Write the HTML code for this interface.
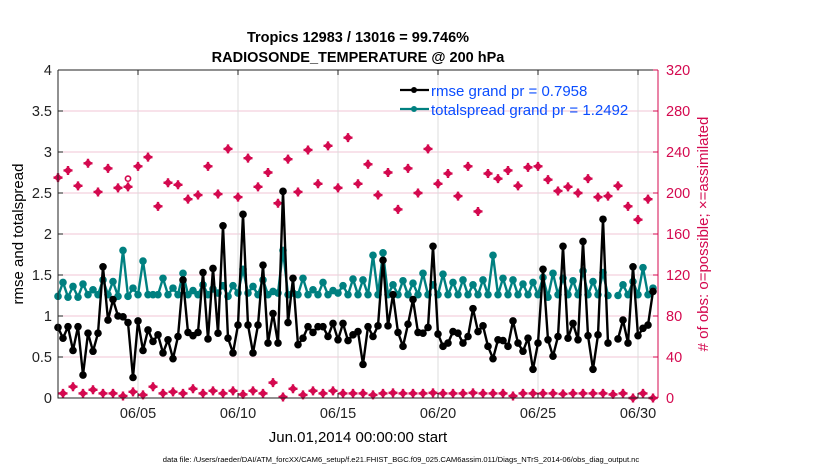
<!DOCTYPE html>
<html><head><meta charset="utf-8"><style>
html,body{margin:0;padding:0;background:#fff;}
svg{display:block;font-family:"Liberation Sans",Arial,sans-serif;}
</style></head><body>
<svg id="chart" width="830" height="470" viewBox="0 0 830 470" xmlns="http://www.w3.org/2000/svg">
<rect x="0" y="0" width="830" height="470" fill="#fff"/>
<text x="358" y="42" text-anchor="middle" font-size="14.5" font-weight="bold">Tropics 12983 / 13016 = 99.746%</text>
<text x="358" y="62" text-anchor="middle" font-size="14.5" font-weight="bold">RADIOSONDE_TEMPERATURE @ 200 hPa</text>
<g id="grid"></g>
<g id="marks"></g>
<g id="axes"></g>
<text transform="translate(23,234) rotate(-90)" text-anchor="middle" font-size="15">rmse and totalspread</text>
<text transform="translate(708,234) rotate(-90)" text-anchor="middle" font-size="15" fill="#d4094f">#  of obs: o=possible; ×=assimilated</text>
<text x="358" y="442" text-anchor="middle" font-size="15">Jun.01,2014 00:00:00 start</text>
<text x="401" y="462" text-anchor="middle" font-size="7.6">data file: /Users/raeder/DAI/ATM_forcXX/CAM6_setup/f.e21.FHIST_BGC.f09_025.CAM6assim.011/Diags_NTrS_2014-06/obs_diag_output.nc</text>
<g>
  <g>
    <line x1="400" y1="90" x2="429" y2="90" stroke="#000" stroke-width="2.2"/>
    <circle cx="414" cy="90" r="3" fill="#000"/>
    <text x="431" y="96" font-size="15" fill="#0a4dff">rmse grand pr = 0.7958</text>
  </g>
  <g>
    <line x1="400" y1="109" x2="429" y2="109" stroke="#008080" stroke-width="2.2"/>
    <circle cx="414" cy="109" r="3" fill="#008080"/>
    <text x="431" y="115" font-size="15" fill="#0a4dff">totalspread grand pr = 1.2492</text>
  </g>
</g>
</svg>
<script>
// ---- data ----
const xTickLabels = ["06/05","06/10","06/15","06/20","06/25","06/30"];
const xTickDays = [4,9,14,19,24,29];
const leftTicks = [0,0.5,1,1.5,2,2.5,3,3.5,4];
const leftTickLabels = ["0","0.5","1","1.5","2","2.5","3","3.5","4"];
const rightTicks = [0,40,80,120,160,200,240,280,320];
const rmse = [0.86,0.73,0.87,0.58,0.87,0.28,0.79,0.57,0.79,1.60,0.95,1.20,1.00,0.99,0.92,0.25,0.94,0.58,0.83,0.69,
0.77,0.55,0.71,0.48,0.75,1.44,0.80,0.76,0.80,1.53,0.72,1.58,0.79,2.10,0.73,0.55,0.89,2.24,0.89,0.55,
0.89,1.62,0.67,1.03,0.67,2.52,0.92,1.46,0.65,0.73,0.87,0.80,0.87,0.87,0.75,0.91,0.71,0.91,0.70,0.77,
0.81,0.41,0.87,0.75,0.88,1.68,0.88,1.26,0.80,0.63,0.90,1.20,0.80,0.79,0.86,1.85,0.78,0.63,0.67,0.81,
0.79,0.67,0.75,1.09,0.81,0.88,0.63,0.48,0.71,0.70,0.63,0.94,0.67,0.57,0.73,0.35,0.67,1.57,0.71,0.51,
0.75,1.85,0.73,0.91,0.71,1.91,0.76,0.35,0.77,2.18,0.67,null,0.72,0.95,0.67,1.60,0.76,0.85,0.89,1.30];
const spread = [1.24,1.41,1.23,1.36,1.23,1.39,1.26,1.32,1.26,1.44,1.26,1.42,1.24,1.80,1.24,1.34,1.26,1.67,1.26,1.26,
1.26,1.46,1.26,1.34,1.26,1.52,1.26,1.31,1.26,1.38,1.26,1.33,1.28,1.37,1.24,1.37,1.28,1.57,1.28,1.36,
1.26,1.44,1.26,1.30,1.28,1.80,1.26,1.28,1.26,1.46,1.26,1.32,1.26,1.41,1.26,1.31,1.28,1.37,1.26,1.45,
1.26,1.44,1.26,1.74,1.26,1.77,1.26,1.38,1.26,1.43,1.26,1.40,1.26,1.52,1.26,1.38,1.26,1.51,1.26,1.41,
1.26,1.44,1.26,1.38,1.26,1.44,1.26,1.74,1.26,1.46,1.26,1.44,1.26,1.39,1.26,1.41,1.26,1.47,1.23,1.52,
1.26,1.46,1.26,1.43,1.26,1.55,1.26,1.42,1.26,1.53,1.25,null,1.25,1.38,1.26,1.42,1.26,1.59,1.26,1.34];
const obsSynoptic = [215,222,207,229,201,224,205,206,226,235,187,210,208,194,198,226,199,243,196,234,
206,220,190,233,201,242,209,246,205,254,209,228,198,220,184,224,200,243,209,219,
197,226,182,219,214,222,207,225,226,213,202,206,200,214,196,197,207,187,174,194];
const obsOffSynoptic = [4.5,11,4.5,8,4.5,4.5,2,6,3,11,4.5,6,4.5,9,4.5,7,4.5,7,3.5,7,
4.5,15,1,9,3,7,4.5,7,4.5,4.5,4.5,3,4.5,5,4.5,4.5,4.5,5,4.5,4.5,
4.5,5,4.5,4.5,4.5,2,4.5,4.5,4.5,4.5,4,4.5,4.5,4.5,4.5,3.5,4.5,0,4.5,0];
const possibleOnlyIndex = [14];
const possibleOnlyCount = [214];

// ---- scales ----
const X0=58, X1=658, Y0=398, Y1=70;
const xDay = d => X0 + (X1-X0)*d/30;
const xIdx = i => xDay(i/4);
const yL = v => Y0 - (Y0-Y1)*v/4;
const yR = v => Y0 - (Y0-Y1)*v/320;
const NS="http://www.w3.org/2000/svg";
const CR="#d4094f";
function mk(tag, attrs, parent){const e=document.createElementNS(NS,tag);for(const k in attrs)e.setAttribute(k,attrs[k]);parent.appendChild(e);return e;}
const grid=document.getElementById('grid'), marks=document.getElementById('marks'), axes=document.getElementById('axes');

rightTicks.forEach(t=>{ if(t>0&&t<320){
  const l=mk('line',{x1:X0,x2:X1,y1:yR(t),y2:yR(t),stroke:"#f2c6d6","stroke-width":1},grid);
  
  
}});
xTickDays.forEach(d=>{
  const l=mk('line',{x1:xDay(d),x2:xDay(d),y1:Y1,y2:Y0,stroke:"#dcdcdc","stroke-width":1},grid);
  
  
});

function cross(cx,cy,name){
  const g=mk('g',{},marks);
  
  
  mk('rect',{x:cx-3,y:cy-3,width:6,height:6,fill:CR,transform:`rotate(45 ${cx} ${cy})`},g);
  mk('path',{d:`M${cx-4.5} ${cy}H${cx+4.5}M${cx} ${cy-4.5}V${cy+4.5}`,stroke:CR,"stroke-width":2.4},g);
}
obsSynoptic.forEach((v,k)=>cross(xIdx(2*k),yR(v),'obs-count-synoptic'));
obsOffSynoptic.forEach((v,k)=>cross(xIdx(2*k+1),yR(v),'obs-count-offsynoptic'));
possibleOnlyIndex.forEach((ix,k)=>{
  const c=mk('circle',{cx:xIdx(ix),cy:yR(possibleOnlyCount[k]),r:2.6,fill:"none",stroke:CR,"stroke-width":1.6},marks);
  
  
});

function series(arr,color,name){
  let d="",pen=false;
  arr.forEach((v,i)=>{ if(v==null){pen=false;return;} d+=(pen?"L":"M")+xIdx(i).toFixed(1)+" "+yL(v).toFixed(1); pen=true;});
  const p=mk('path',{d:d,fill:"none",stroke:color,"stroke-width":2.4,"stroke-linejoin":"round"},marks);
  
  
  arr.forEach((v,i)=>{ if(v==null)return;
    const c=mk('circle',{cx:xIdx(i),cy:yL(v),r:3.8,fill:color},marks);
    
    
  });
}
series(spread,"#008080","totalspread");
series(rmse,"#000","rmse");

const bl=mk('path',{d:`M${X0} ${Y1}H${X1}M${X0} ${Y1}V${Y0}H${X1}`,stroke:"#222",fill:"none","stroke-width":1},axes);


const ra=mk('line',{x1:X1,x2:X1,y1:Y1,y2:Y0,stroke:CR,"stroke-width":1},axes);


leftTicks.forEach((t,k)=>{
  mk('line',{x1:X0,x2:X0+5,y1:yL(t),y2:yL(t),stroke:"#222"},axes);
  const tx=mk('text',{x:X0-6,y:yL(t)+5,"text-anchor":"end","font-size":14.5,fill:"#222"},axes);
  tx.textContent=leftTickLabels[k];
  
  
});
rightTicks.forEach(t=>{
  mk('line',{x1:X1-5,x2:X1,y1:yR(t),y2:yR(t),stroke:CR},axes);
  const tx=mk('text',{x:X1+8,y:yR(t)+5,"font-size":14.5,fill:CR},axes);
  tx.textContent=String(t);
  
  
});
xTickDays.forEach((d,k)=>{
  mk('line',{x1:xDay(d),x2:xDay(d),y1:Y0,y2:Y0-5,stroke:"#222"},axes);
  mk('line',{x1:xDay(d),x2:xDay(d),y1:Y1,y2:Y1+5,stroke:"#222"},axes);
  const tx=mk('text',{x:xDay(d),y:418,"text-anchor":"middle","font-size":14.5,fill:"#222"},axes);
  tx.textContent=xTickLabels[k];
  
  
});
</script>
</body></html>
